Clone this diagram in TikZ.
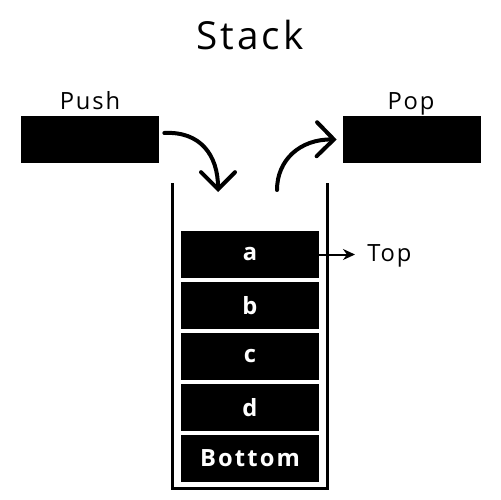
\documentclass[tikz,border=0pt]{standalone}
\usepackage{fontspec}
\setmainfont{Open Sans}[LetterSpace=8]
\newfontfamily\cellfont{Open Sans}[LetterSpace=9]
\usetikzlibrary{arrows.meta}
\begin{document}
\begin{tikzpicture}[x=0.02cm,y=-0.02cm,
  blackbox/.style={draw=none,fill=black,minimum width=2.76cm,minimum height=0.94cm,inner sep=0pt},
  cell/.style={blackbox,text=white,font=\cellfont\fontsize{13.5}{15}\selectfont\bfseries},
  label/.style={anchor=base,inner sep=0pt,font=\fontsize{13.5}{16}\selectfont},
  curvedarrow/.style={line width=0.08cm,line cap=round,-{Straight Barb[length=0.34cm,width=0.68cm,line cap=round]}},
  pointer/.style={line width=0.04cm,-{Stealth[length=0.24cm,width=0.22cm]}}]
\useasboundingbox (0,0) rectangle (500,500);
% title
\node[anchor=base,inner sep=0pt,font=\fontsize{22}{26}\selectfont] (title) at (250,50) {Stack};
% push / pop slots
\node[blackbox] (pushbox) at (90,139.5) {};
\node[blackbox] (popbox) at (412,139.5) {};
\node[label] (pushlbl) at (90,110) {Push};
\node[label] (poplbl) at (411,110) {Pop};
% container
\draw[line width=0.06cm] (172,183) -- (172,488) -- (327,488) -- (327,183);
% stack cells
\node[cell] (a) at (250,254.5) {a};
\node[cell] (b) at (250,305.5) {b};
\node[cell] (c) at (250,356.5) {c};
\node[cell] (d) at (250,407.5) {d};
\node[cell] (bottom) at (250,458.5) {Bottom};
% top pointer
\node[font=\fontsize{13.5}{16}\selectfont,anchor=west,inner ysep=0pt,inner xsep=0.24cm] (top) at (355,255.5) {Top};
\draw[pointer] (a.east) -- (a.east -| top.west);
% push and pop arrows
\coordinate (pushend) at (218,192);
\coordinate (popstart) at (277,190);
\draw[curvedarrow] ([xshift=0.1cm,yshift=0.13cm]pushbox.east) .. controls (200,131) and (218,155) .. (pushend);
\draw[curvedarrow] (popstart) .. controls (277,160) and (300,139) .. ([xshift=-0.12cm]popbox.west);
\end{tikzpicture}
\end{document}
